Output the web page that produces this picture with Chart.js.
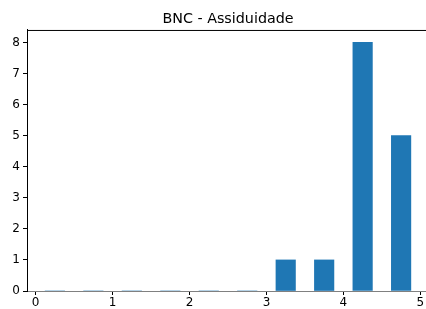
<!DOCTYPE html>
<html>
<head>
<meta charset="utf-8">
<script src="https://cdn.jsdelivr.net/npm/chart.js@4/dist/chart.umd.min.js"></script>
<style>
  html, body { margin: 0; padding: 0; background: #fff; overflow: hidden; }
  #wrap { width: 426px; height: 309px; overflow: hidden; }
</style>
</head>
<body>
<div id="wrap"><canvas id="hist" width="432" height="309"></canvas></div>
<script>
// histogramme : centres des classes (pas de 0.5) et effectifs
const binCenters = [0.25, 0.75, 1.25, 1.75, 2.25, 2.75, 3.25, 3.75, 4.25, 4.75];
const counts = [0, 0, 0, 0, 0, 0, 1, 1, 8, 5];
const xTicks = [0, 1, 2, 3, 4, 5];
const yTicks = [0, 1, 2, 3, 4, 5, 6, 7, 8];

const police = 'DejaVu Sans';

// ligne du haut du cadre (spine matplotlib)
Chart.register({
  id: 'topSpine',
  afterDraw: function (chart) {
    const ctx = chart.ctx;
    const a = chart.chartArea;
    ctx.save();
    ctx.strokeStyle = '#000';
    ctx.lineWidth = 1;
    ctx.beginPath();
    ctx.moveTo(a.left, a.top + 0.5);
    ctx.lineTo(a.right + 5, a.top + 0.5);
    ctx.stroke();
    ctx.restore();
  }
});

// le canvas déborde un peu à droite (masqué), comme la figure d'origine
const ctx = document.getElementById('hist').getContext('2d');
new Chart(ctx, {
  type: 'bar',
  data: {
    datasets: [{
      data: binCenters.map((c, i) => ({ x: c, y: counts[i] })),
      backgroundColor: '#1f77b4',
      borderWidth: 0,
      barThickness: 19.5,
      grouped: false
    }]
  },
  options: {
    responsive: false,
    animation: false,
    layout: { padding: { left: 0, right: 3, top: 0, bottom: 0 } },
    plugins: {
      legend: { display: false },
      tooltip: { enabled: false },
      title: {
        display: true,
        fullSize: false,
        text: 'BNC - Assiduidade',
        color: '#000',
        font: { family: police, size: 14.3, weight: 'normal' },
        padding: { top: 11, bottom: 1.8 }
      }
    },
    scales: {
      x: {
        type: 'linear',
        offset: false,
        min: -0.1125,
        max: 5.1125,
        afterBuildTicks: s => { s.ticks = xTicks.map(v => ({ value: v })); },
        afterFit: s => { s.height = 18; },
        ticks: {
          color: '#000',
          font: { family: police, size: 12 },
          padding: 1,
          maxRotation: 0
        },
        grid: {
          offset: false,
          drawOnChartArea: false,
          tickLength: 4,
          tickColor: '#000'
        },
        border: { color: '#808080', width: 1 }
      },
      y: {
        min: 0,
        max: 8.4,
        afterBuildTicks: s => { s.ticks = yTicks.map(v => ({ value: v })); },
        afterFit: s => { s.width = 27; },
        ticks: {
          color: '#000',
          font: { family: police, size: 12 },
          padding: 3
        },
        grid: {
          offset: false,
          drawOnChartArea: false,
          tickLength: 4,
          tickColor: '#000'
        },
        border: { color: '#000', width: 1 }
      }
    }
  }
});
</script>
</body>
</html>
